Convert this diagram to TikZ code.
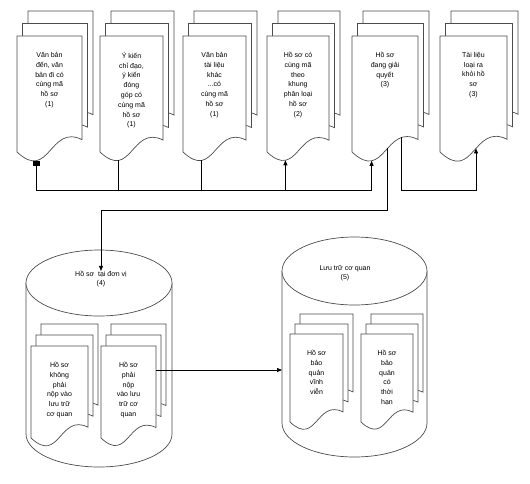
\documentclass[tikz,border=0pt]{standalone}
\usepackage{fontspec}
\setmainfont{Liberation Sans}
\usetikzlibrary{arrows.meta}

% three stacked pages, the front one drawn last
\newcommand{\docstack}[6]{%
  \begin{scope}[shift={#2}]
    % back pages
    \draw[page, shift={#5}, shift={#5}] (0,0) -- (0,-#4)
      .. controls (0.5*#3,-#4-0.47*#3) and (0.5*#3,-#4+0.44*#3) .. (#3,-#4+0.19*#3)
      -- (#3,0) -- cycle;
    \draw[page, shift={#5}] (0,0) -- (0,-#4)
      .. controls (0.5*#3,-#4-0.47*#3) and (0.5*#3,-#4+0.44*#3) .. (#3,-#4+0.19*#3)
      -- (#3,0) -- cycle;
    % front page
    \draw[page] (0,0) -- (0,-#4)
      .. controls (0.5*#3,-#4-0.47*#3) and (0.5*#3,-#4+0.44*#3) .. (#3,-#4+0.19*#3)
      coordinate[pos=0.25] (#1-s) coordinate[pos=0.55] (#1-m) coordinate[pos=0.8] (#1-r)
      -- (#3,0) -- cycle;
    \coordinate (#1-e) at (#3,-24);
    \node[doctext] (#1) at (0.5*#3,-16) {#6};
  \end{scope}}

\begin{document}
\begin{tikzpicture}[
    x=1pt, y=1pt,
    page/.style={draw=black!70, fill=white, line width=0.7pt},
    drum/.style={draw=black!70, fill=white, line width=0.7pt},
    doctext/.style={anchor=north, align=center, inner sep=0pt, font=\fontsize{7}{9.8}\selectfont},
    drumtext/.style={align=center, inner sep=0pt, font=\fontsize{7}{9}\selectfont},
    link/.style={draw=black, line width=0.7pt},
    arrow/.style={link, -{Triangle[length=5pt,width=4pt]}}
  ]
  \useasboundingbox (0,0) rectangle (530,-483);

  % Documents
  \docstack{d1}{(17,-36)}{65}{116}{(5.5,12.5)}{Văn bản\\đến, văn\\bản đi có\\cùng mã\\hồ sơ\\(1)}
  \docstack{d2}{(100,-36)}{63}{116}{(5.5,12.5)}{Ý kiến\\chỉ đạo,\\ý kiến\\đóng\\góp có\\cùng mã\\hồ sơ\\(1)}
  \docstack{d3}{(183,-36)}{63}{116}{(5.5,12.5)}{Văn bản\\tài liệu\\khác\\...có\\cùng mã\\hồ sơ\\(1)}
  \docstack{d4}{(267,-36)}{62}{116}{(5.5,12.5)}{Hồ sơ có\\cùng mã\\theo\\khung\\phân loại\\hồ sơ\\(2)}
  \docstack{d5}{(352,-36)}{66}{116}{(5.5,12.5)}{Hồ sơ\\đang giải\\quyết\\(3)}
  \docstack{d6}{(440,-36)}{67}{116}{(5.5,12.5)}{Tài liệu\\loại ra\\khỏi hồ\\sơ\\(3)}

  % Unit storage
  \draw[drum] (26,-283) -- (26,-434) arc (180:360:73 and 33) -- (172,-283);
  \draw[drum] (99,-283) ellipse (73 and 33);
  \node[drumtext] (unit) at (101,-279) {Hồ sơ~~tại đơn vị\\(4)};
  \docstack{dA}{(31,-346)}{57}{92}{(5,11)}{Hồ sơ\\không\\phải\\nộp vào\\lưu trữ\\cơ quan}
  \docstack{dB}{(101,-346)}{55}{92}{(5,11)}{Hồ sơ\\phải\\nộp\\vào lưu\\trữ cơ\\quan}

  % Agency archive
  \draw[drum] (282,-271) -- (282,-423) arc (180:360:72.5 and 34) -- (427,-271);
  \draw[drum] (354.5,-271) ellipse (72.5 and 34);
  \node[drumtext] (archive) at (345,-273) {Lưu trữ cơ quan\\(5)};
  \coordinate (archivewall) at (282,-350);
  \docstack{dC}{(290,-334)}{53}{88}{(5,10)}{Hồ sơ\\bảo\\quản\\vĩnh\\viễn}
  \docstack{dD}{(361,-334)}{52}{88}{(5,10)}{Hồ sơ\\bảo\\quản\\có\\thời\\hạn}

  % Arrows
  \coordinate (busline) at (0,-190);
  \coordinate (splitline) at (0,-210);
  \draw[link, {Square[length=5pt,width=7pt]}-{Triangle[length=5pt,width=4pt]}] (d1-s) -- (d1-s |- busline) -| (d5-s);
  \draw[link] (d2-s) -- (d2-s |- busline);
  \draw[link] (d3-s) -- (d3-s |- busline);
  \draw[arrow] (d4-s |- busline) -- (d4-s);
  \draw[arrow] (d5-r) -- (d5-r |- busline) -| (d6-m);
  \draw[arrow] (d5-m) -- (d5-m |- splitline) -| (unit.north);
  \draw[arrow] (dB-e) -- (dB-e -| archivewall);
\end{tikzpicture}
\end{document}
